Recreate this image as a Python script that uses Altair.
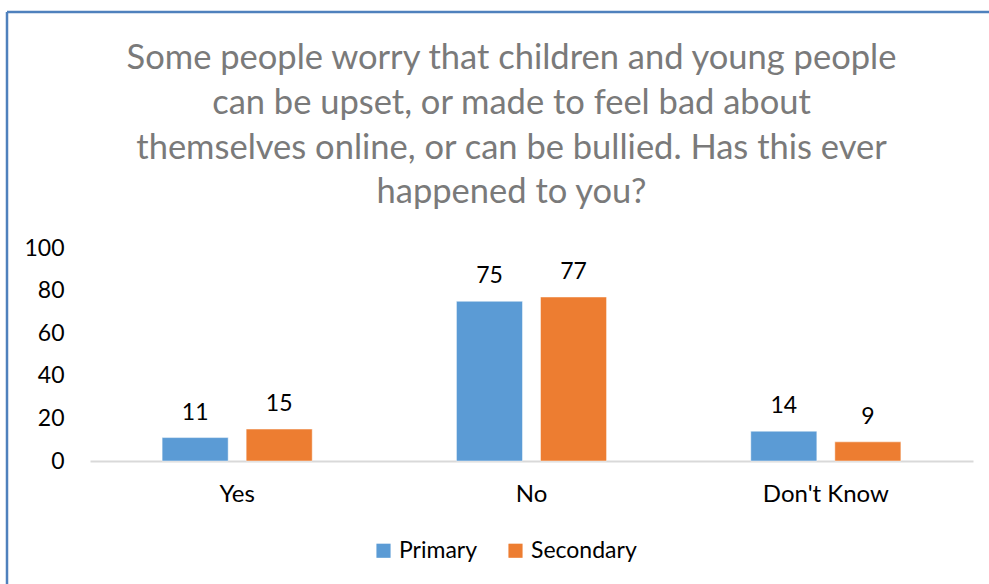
import altair as alt
import pandas as pd

categories = ["Yes", "No", "Don't Know"]
series = ["Primary", "Secondary"]
primary_values = [11, 75, 14]
secondary_values = [15, 77, 9]
colors = ["#5B9BD5", "#ED7D31"]
title_lines = [
    "Some people worry that children and young people",
    "can be upset, or made to feel bad about",
    "themselves online, or can be bullied. Has this ever",
    "happened to you?",
]

rows = []
for c, p, s in zip(categories, primary_values, secondary_values):
    rows.append({"cat": c, "series": "Primary", "value": p})
    rows.append({"cat": c, "series": "Secondary", "value": s})
df = pd.DataFrame(rows)

FONT = "Lato"

x = alt.X("cat:N", sort=categories, title=None,
          scale=alt.Scale(paddingInner=0.49, paddingOuter=0.245),
          axis=alt.Axis(labelAngle=0, labelFontSize=24, labelColor="#000000",
                        labelFont=FONT, domainColor="#D9D9D9", domainWidth=2,
                        ticks=False, labelPadding=21, grid=False))
xo = alt.XOffset("series:N", sort=series,
                 scale=alt.Scale(paddingInner=0.214, paddingOuter=0))
y = alt.Y("value:Q", title=None,
          scale=alt.Scale(domain=[0, 100], nice=False),
          axis=alt.Axis(values=[0, 20, 40, 60, 80, 100], labelFontSize=23,
                        labelColor="#000000", labelFont=FONT, domain=False,
                        ticks=False, grid=False, labelPadding=26))

base = alt.Chart(df)
bars = base.mark_bar(stroke="#FFFFFF", strokeWidth=0.8, strokeOpacity=0.6).encode(
    x=x, xOffset=xo, y=y,
    color=alt.Color("series:N", sort=series,
                    scale=alt.Scale(domain=series, range=colors),
                    legend=alt.Legend(title=None, orient="none", legendX=282,
                                      legendY=291, direction="horizontal",
                                      symbolType="square", symbolSize=200,
                                      symbolStrokeWidth=0, labelFontSize=23,
                                      labelFont=FONT, labelColor="#000000",
                                      columnPadding=26, labelOffset=4)),
)
labels = base.mark_text(baseline="bottom", dy=-13, fontSize=23, font=FONT,
                        color="#000000").encode(
    x=alt.X("cat:N", sort=categories), xOffset=alt.XOffset("series:N", sort=series),
    y="value:Q", text="value:Q",
)

border_data = alt.Data(values=[{"a": 1}])
top_border = alt.Chart(border_data).mark_rule(color="#4F81BD", strokeWidth=2.5).encode(
    x=alt.value(-83), x2=alt.value(920), y=alt.value(-236))
left_border = alt.Chart(border_data).mark_rule(color="#4F81BD", strokeWidth=2.5).encode(
    x=alt.value(-83), y=alt.value(-236), y2=alt.value(360))

chart = alt.layer(bars, labels, top_border, left_border).properties(
    width=883, height=213,
    title=alt.TitleParams(text=title_lines, fontSize=34.5, font=FONT,
                          color="#7A7A7A", fontWeight="normal",
                          lineHeight=44.7, anchor="middle", dx=-20,
                          baseline="top", offset=0, dy=200),
    autosize=alt.AutoSizeParams(type="none"),
    padding={"left": 90, "top": 248, "right": 16, "bottom": 123},
    background="#FFFFFF",
).configure_view(stroke=None)

chart.save("out.html", embed_options={"renderer": "svg", "actions": False})
